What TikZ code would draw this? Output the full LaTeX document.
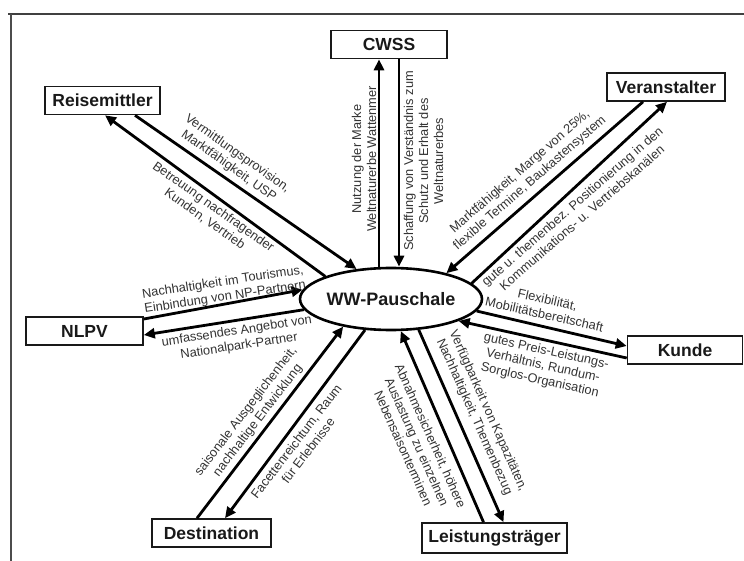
\documentclass[tikz,border=0pt]{standalone}
\usepackage{fontspec}
\setmainfont{Liberation Sans}
\usetikzlibrary{arrows.meta,shapes.geometric,calc}
\begin{document}
\begin{tikzpicture}[x=1pt,y=-1pt,
  box/.style={draw=black!90,line width=1.6pt,minimum width=#1,minimum height=28pt,inner sep=0pt,
    font=\fontsize{17.5}{20}\selectfont\bfseries,text=black!90},
  arr/.style={line width=2.8pt,-{Triangle[length=11pt,width=10pt]}},
  lbl/.style={font=\fontsize{12.8}{15}\selectfont,text=black!80,align=center,inner sep=0pt}]
\useasboundingbox (0,0) rectangle (744,561);
% frame
\draw[line width=2.2pt,black!75] (8,14) -- (744,14);
\draw[line width=1.3pt,black!70] (11,14) -- (11,561);

% nodes
\node[ellipse,draw,line width=2.6pt,minimum width=148pt,minimum height=62pt,inner sep=0pt,
  font=\fontsize{18}{20}\selectfont\bfseries,text=black!90] (ww) at (391,299) {WW-Pauschale};
\node[box=115pt] (reise) at (102.5,100.5) {Reisemittler};
\node[box=116pt] (cwss) at (389,44.5) {CWSS};
\node[box=118pt] (veran) at (666,87) {Veranstalter};
\node[box=117pt] (nlpv) at (84.5,331) {NLPV};
\node[box=115pt] (kunde) at (685,350) {Kunde};
\node[box=119pt] (dest) at (211.5,533) {Destination};
\node[box=145pt,minimum height=30pt] (leist) at (494.5,538) {Leistungsträger};

% connectors
\draw[arr] (ww.161.9) -- ([xshift=2.5pt]reise.south);
\draw[arr] ([xshift=32.5pt]reise.south) -- (ww.139.5);

\coordinate (c1) at ([xshift=-10pt]cwss.south);
\coordinate (c2) at ([xshift=10pt]cwss.south);
\draw[arr] (c1 |- ww.north) -- (c1);
\draw[arr] (c2) -- (c2 |- ww.north);

\draw[arr] ([xshift=-23pt]veran.south) -- (ww.25.2);
\draw[arr] (ww.11.8) -- ([xshift=1pt]veran.south);

\draw[arr] ([yshift=12pt]nlpv.east) -- (ww.174.5);
\draw[arr] (ww.187.8) -- ([yshift=-4pt]nlpv.east);

\draw[arr] (ww.-8.1) -- ([yshift=4pt]kunde.west);
\draw[arr] ([yshift=-8pt]kunde.west) -- (ww.-18);

\draw[arr] ([xshift=-11pt]leist.north) -- (ww.-73.7);
\draw[arr] (ww.-48.1) -- ([xshift=9pt]leist.north);

\draw[arr] ([xshift=-14.5pt]dest.north) -- (ww.210.4);
\draw[arr] (ww.230.7) -- ([xshift=13.5pt]dest.north);

% labels
\node[lbl,rotate=-35.3] (l1) at (233,160) {Vermittlungsprovision,\\Marktfähigkeit, USP};
\node[lbl,rotate=-35.3] (l2) at (209,213) {Betreuung nachfragender\\Kunden, Vertrieb};
\node[lbl,rotate=90] (l3) at (364,159) {Nutzung der Marke\\Weltnaturerbe Wattenmer};
\node[lbl,rotate=90] (l4) at (423.5,161) {Schaffung von Verständnis zum\\Schutz und Erhalt des\\Weltnaturerbes};
\node[lbl,rotate=41] (l5) at (525,177.5) {Marktfähigkeit, Marge von 25\%,\\flexible Termine, Baukastensystem};
\node[lbl,rotate=41] (l6) at (577,212) {gute u. themenbez. Positionierung in den\\Kommunikations- u. Vertriebskanälen};
\node[lbl,rotate=8.6] (l7) at (224,290) {Nachhaltigkeit im Tourismus,\\Einbindung von NP-Partnern};
\node[lbl,rotate=8.6] (l8) at (238,339) {umfassendes Angebot von\\Nationalpark-Partner};
\node[lbl,rotate=-12.5] (l9) at (546,307) {Flexibilität,\\Mobilitätsbereitschaft};
\node[lbl,rotate=-12.5] (l10) at (543,366) {gutes Preis-Leistungs-\\Verhältnis, Rundum-\\Sorglos-Organisation};
\node[lbl,rotate=-66] (l11) at (481,414) {Verfügbarkeit von Kapazitäten,\\Nachhaltigkeit, Themenbezug};
\node[lbl,rotate=-66] (l12) at (417,442) {Abnahmesicherheit, höhere\\Auslastung zu einzelnen\\Nebensaisonterminen};
\node[lbl,rotate=52.5] (l13) at (252,416) {saisonale Ausgeglichenheit,\\nachhaltige Entwicklung};
\node[lbl,rotate=52.5] (l14) at (302,446) {Facettenreichtum, Raum\\für Erlebnisse};
\end{tikzpicture}
\end{document}
